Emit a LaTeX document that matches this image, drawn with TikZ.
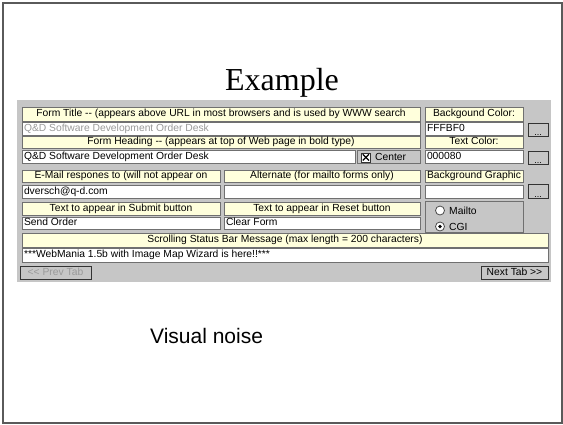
\documentclass[tikz,border=0pt]{standalone}
\usepackage{fontspec}
\usetikzlibrary{calc}
\setmainfont{Liberation Serif}
\newfontfamily\wf{Liberation Sans}
\definecolor{scr}{HTML}{C6C6C6}
\definecolor{lyel}{HTML}{FFFFDC}
\definecolor{dkg}{HTML}{707070}
\definecolor{frm}{HTML}{5A5A5A}
\definecolor{dis}{HTML}{9A9A9A}
\newcommand\ct[1]{\makebox[0pt]{\vphantom{(Ag}#1}}
\newcommand\lt[2]{\makebox[#1pt][l]{\vphantom{(Ag}#2}}
\tikzset{
  cellbase/.style={anchor=north west, inner sep=0pt, outer sep=0pt, draw=dkg, line width=0.9pt,
    font=\wf\fontsize{10.3}{12}\selectfont},
  lab/.style={cellbase, fill=lyel},
  fld/.style={cellbase, fill=white},
  grey/.style={cellbase, fill=scr},
  btnbox/.style={anchor=north west, inner sep=0pt, outer sep=0pt, draw=black!80, line width=1pt, fill=scr,
    font=\wf\fontsize{10.3}{12}\selectfont},
  wd/.style={minimum width=#1pt},
  ht/.style={minimum height=#1pt},
}
\begin{document}
\begin{tikzpicture}[x=1pt,y=-1pt]
\useasboundingbox (0,0) rectangle (563,424);
% slide frame
\node[anchor=north west, draw=frm, line width=1.5pt, minimum width=559pt, minimum height=420pt, inner sep=0pt] (frame) at (2,2) {};
% title
\node[anchor=base, font=\fontsize{32}{36}\selectfont, inner sep=0pt] (title) at (282,90) {Example};
% screenshot background
\node[anchor=north west, fill=scr, minimum width=534pt, minimum height=182pt, inner sep=0pt] (shot) at (17,100) {};
% row 1
\node[lab, wd=398, ht=14] (t1) at (22,107) {\ct{Form Title -- (appears above URL in most browsers and is used by WWW search}};
\node[lab, wd=98, ht=14] (t1r) at (425,107) {\ct{Backgound Color:}};
% row 2
\node[fld, wd=398, ht=13] (f2) at (22,122) {\lt{394}{\color{dis}Q\&D Software Development Order Desk}};
\node[fld, wd=98, ht=13] (f2r) at (425,122) {\lt{94}{FFFBF0}};
\node[btnbox, wd=20, ht=13] (b1) at (528,123) {};
\node[anchor=south, inner sep=0.5pt, font=\wf\small] (b1t) at (b1.south) {...};
% row 3
\node[lab, wd=398, ht=12] (t3) at (22,136) {\ct{Form Heading -- (appears at top of Web page in bold type)}};
\node[lab, wd=98, ht=12] (t3r) at (425,136) {\ct{Text Color:}};
% row 4
\node[fld, wd=333, ht=13] (f4) at (22,150) {\lt{329}{Q\&D Software Development Order Desk}};
\node[grey, wd=63, ht=13] (chk) at (357,150) {};
\node[anchor=north west, draw=black!80, fill=white, minimum width=9pt, minimum height=9pt, inner sep=0pt, line width=0.8pt] (box) at (361,152.5) {};
\draw[line width=1.3pt] ($(box.north west)+(1.8,1.8)$) -- ($(box.south east)+(-1.8,-1.8)$);
\draw[line width=1.3pt] ($(box.north east)+(-1.8,1.8)$) -- ($(box.south west)+(1.8,-1.8)$);
\node[anchor=west, inner sep=0pt, font=\wf\fontsize{10.3}{12}\selectfont] (chkt) at (375,156.5) {Center};
\node[fld, wd=98, ht=13] (f4r) at (425,150) {\lt{94}{000080}};
\node[btnbox, wd=20, ht=13] (b2) at (528,151) {};
\node[anchor=south, inner sep=0.5pt, font=\wf\small] (b2t) at (b2.south) {...};
% row 5
\node[lab, wd=198, ht=12] (t5) at (22,170) {\ct{E-Mail respones to (will not appear on}};
\node[lab, wd=196, ht=12] (t5m) at (224,170) {\ct{Alternate (for mailto forms only)}};
\node[lab, wd=98, ht=12] (t5r) at (425,170) {\ct{Background Graphic}};
% row 6
\node[fld, wd=198, ht=13] (f6) at (22,185) {\lt{194}{dversch@q-d.com}};
\node[fld, wd=196, ht=13] (f6m) at (224,185) {};
\node[fld, wd=98, ht=13] (f6r) at (425,185) {};
\node[btnbox, wd=20, ht=14] (b3) at (528,184) {};
\node[anchor=south, inner sep=0.5pt, font=\wf\small] (b3t) at (b3.south) {...};
% row 7
\node[lab, wd=198, ht=13] (t7) at (22,202) {\ct{Text to appear in Submit button}};
\node[lab, wd=196, ht=13] (t7m) at (224,202) {\ct{Text to appear in Reset button}};
% radio group
\node[grey, wd=98, ht=31] (rad) at (425,201) {};
\begin{scope}
  \clip (425,201) rectangle (523,231.5);
  \node[circle, draw=black!70, fill=white, line width=0.8pt, minimum size=9pt, inner sep=0pt] (r1) at (440,210.5) {};
  \node[anchor=west, inner sep=0pt, font=\wf\fontsize{10.3}{12}\selectfont] (r1t) at (449,210.5) {Mailto};
  \node[circle, draw=black!70, fill=white, line width=0.8pt, minimum size=9pt, inner sep=0pt] (r2) at (440,226.5) {};
  \fill (r2.center) circle (1.9);
  \node[anchor=west, inner sep=0pt, font=\wf\fontsize{10.3}{12}\selectfont] (r2t) at (449,227) {CGI};
\end{scope}
% row 8
\node[fld, wd=198, ht=12] (f8) at (22,217) {\lt{194}{Send Order}};
\node[fld, wd=196, ht=12] (f8m) at (224,217) {\lt{192}{Clear Form}};
% row 9
\node[lab, wd=526, ht=14] (t9) at (22,233) {\ct{Scrolling Status Bar Message (max length = 200 characters)}};
% row 10
\node[fld, wd=526, ht=14] (f10) at (22,248) {\lt{522}{***WebMania 1.5b with Image Map Wizard is here!!***}};
% tab buttons
\node[btnbox, wd=71, ht=13, text=dis] (prev) at (20,266) {\ct{<< Prev Tab}};
\node[btnbox, wd=67, ht=13] (next) at (481,266) {\ct{Next Tab >>}};
% caption
\node[anchor=base west, inner sep=0pt, font=\wf\fontsize{21}{24}\selectfont] (noise) at (150,343) {Visual noise};
\end{tikzpicture}
\end{document}
